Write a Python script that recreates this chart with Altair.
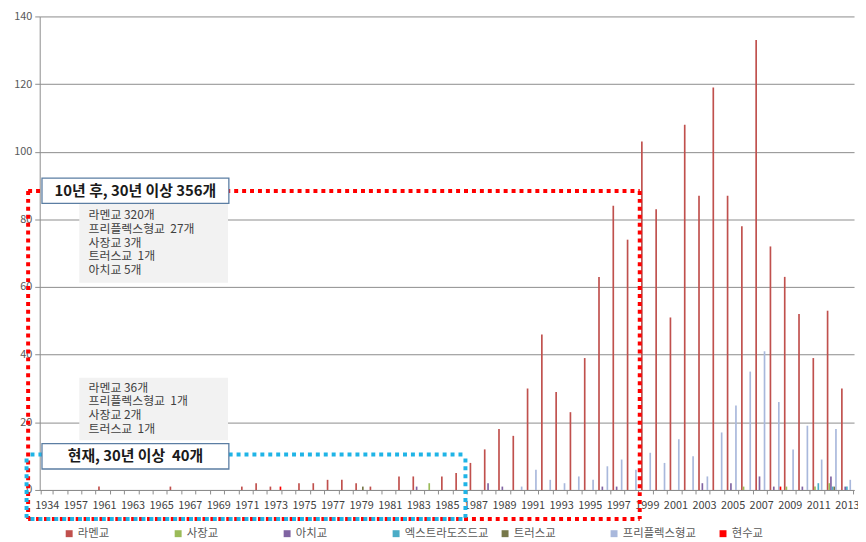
import altair as alt
import pandas as pd

FONT = "Noto Sans CJK KR"
NB = "\u00a0"

# ---------------- data ----------------
years = ["1934", "1954", "1957", "1959", "1961", "1962", "1963", "1964", "1965", "1966",
         "1967", "1968", "1969", "1970", "1971", "1972", "1973", "1974", "1975", "1976",
         "1977", "1978", "1979", "1980", "1981", "1982", "1983", "1984", "1985", "1986",
         "1987", "1988", "1989", "1990", "1991", "1992", "1993", "1994", "1995", "1996",
         "1997", "1998", "1999", "2000", "2001", "2002", "2003", "2004", "2005", "2006",
         "2007", "2008", "2009", "2010", "2011", "2012", "2013"]
labeled_years = years[0::2]

series = ["라멘교", "사장교", "아치교", "엑스트라도즈드교", "트러스교", "프리플렉스형교", "현수교"]
colors = ["#c0504d", "#9bbb59", "#8064a2", "#4bacc6", "#77784a", "#a9b8dc", "#ff0000"]

rahmen = {"1961": 1, "1966": 1, "1971": 1, "1972": 2, "1973": 1, "1975": 2, "1976": 2,
          "1977": 3, "1978": 3, "1979": 2, "1980": 1, "1982": 4, "1983": 4, "1985": 4,
          "1986": 5, "1987": 8, "1988": 12, "1989": 18, "1990": 16, "1991": 30, "1992": 46,
          "1993": 29, "1994": 23, "1995": 39, "1996": 63, "1997": 84, "1998": 74,
          "1999": 103, "2000": 83, "2001": 51, "2002": 108, "2003": 87, "2004": 119,
          "2005": 87, "2006": 78, "2007": 133, "2008": 72, "2009": 63, "2010": 52,
          "2011": 39, "2012": 53, "2013": 30}
cable_stayed = {"1984": 2, "2006": 1, "2009": 1, "2011": 1, "2012": 2}
arch = {"1983": 1, "1988": 2, "1989": 1, "1996": 1, "1997": 1, "2003": 2, "2005": 2,
        "2007": 4, "2008": 1, "2010": 1, "2012": 4, "2013": 1}
extradosed = {"2011": 2, "2012": 1, "2013": 1}
truss = {"1979": 1, "2012": 1}
preflex = {"1990": 1, "1991": 6, "1992": 3, "1993": 2, "1994": 4, "1995": 3, "1996": 7,
           "1997": 9, "1998": 6, "1999": 11, "2000": 8, "2001": 15, "2002": 10, "2003": 4,
           "2004": 17, "2005": 25, "2006": 35, "2007": 41, "2008": 26, "2009": 12,
           "2010": 19, "2011": 9, "2012": 18, "2013": 3}
suspension = {"1973": 1, "2008": 1}

series_values = [rahmen, cable_stayed, arch, extradosed, truss, preflex, suspension]

after_title = "10년 후, 30년 이상 356개"
after_lines = ["라멘교 320개", "프리플렉스형교 " + NB + "27개", "사장교 3개",
               "트러스교 " + NB + "1개", "아치교 5개"]
now_title = "현재, 30년 이상 " + NB + "40개"
now_lines = ["라멘교 36개", "프리플렉스형교 " + NB + "1개", "사장교 2개", "트러스교 " + NB + "1개"]

rows = []
for name, vals in zip(series, series_values):
    for y in years:
        rows.append({"year": y, "series": name, "value": vals.get(y, 0)})
df = pd.DataFrame(rows)

# ---------------- scales ----------------
W, H = 822, 478
N = len(years)
Y_DOMAIN = [0, 140]


def XA(field):
    return alt.X(field, type="quantitative", axis=None,
                 scale=alt.Scale(domain=[0, N], nice=False, zero=False))


def YA(field):
    return alt.Y(field, type="quantitative",
                 scale=alt.Scale(domain=Y_DOMAIN, nice=False, zero=False))


label_list = "[" + ",".join("'" + y + "'" for y in labeled_years) + "]"

bars = alt.Chart(df).mark_bar().encode(
    x=alt.X("year:N", sort=years,
            scale=alt.Scale(domain=years, paddingInner=0.18, paddingOuter=0.09),
            axis=alt.Axis(title=None, labelAngle=0, labelOverlap=False,
                          labelExpr=f"indexof({label_list}, datum.value) >= 0 ? datum.value : ''",
                          tickBand="extent", tickSize=4, tickColor="#8c8c8c",
                          domainColor="#8c8c8c", labelFont=FONT, labelFontSize=11,
                          labelColor="#3f3f3f", labelPadding=6)),
    xOffset=alt.XOffset("series:N", sort=series,
                        scale=alt.Scale(domain=series, paddingInner=0, paddingOuter=0)),
    y=alt.Y("value:Q", scale=alt.Scale(domain=Y_DOMAIN, nice=False),
            axis=alt.Axis(title=None, values=[0, 20, 40, 60, 80, 100, 120, 140],
                          grid=True, gridColor="#8c8c8c", tickColor="#8c8c8c",
                          tickSize=5, domainColor="#8c8c8c", labelFont=FONT,
                          labelFontSize=11, labelColor="#595959", labelPadding=3)),
    color=alt.Color("series:N", sort=series,
                    scale=alt.Scale(domain=series, range=colors),
                    legend=alt.Legend(title=None, orient="none", legendX=24, legendY=516,
                                      direction="horizontal", columns=7, gridAlign="all",
                                      symbolType="square", symbolSize=49,
                                      symbolStrokeWidth=0, labelFont=FONT,
                                      labelFontSize=11.5, labelColor="#595959",
                                      columnPadding=10, labelOffset=3)),
)

# ---------------- annotations (index units on x, data units on y) ----------------
red = dict(left=-0.81, right=42.0, top=88.4, bottom=-8.6)
blue = dict(left=-0.92, right=29.8, top=10.5, bottom=-8.6)


def box_edges(b):
    return pd.DataFrame([
        {"x": b["left"], "x2": b["right"], "y": b["top"], "y2": b["top"]},
        {"x": b["left"], "x2": b["right"], "y": b["bottom"], "y2": b["bottom"]},
        {"x": b["left"], "x2": b["left"], "y": b["top"], "y2": b["bottom"]},
        {"x": b["right"], "x2": b["right"], "y": b["top"], "y2": b["bottom"]},
    ])


red_rules = alt.Chart(box_edges(red)).mark_rule(
    color="#ff0000", strokeWidth=4, strokeDash=[4, 4], strokeCap="butt"
).encode(x=XA("x"), x2="x2", y=YA("y"), y2="y2")

blue_rules = alt.Chart(box_edges(blue)).mark_rule(
    color="#1fb4e6", strokeWidth=4, strokeDash=[4, 4], strokeDashOffset=4, strokeCap="butt"
).encode(x=XA("x"), x2="x2", y=YA("y"), y2="y2")

gray_boxes = alt.Chart(pd.DataFrame([
    {"x": 2.77, "x2": 13.18, "y": 84.7, "y2": 61.3},
    {"x": 2.77, "x2": 13.18, "y": 33.2, "y2": 14.7},
])).mark_rect(fill="#f2f2f2").encode(x=XA("x"), x2="x2", y=YA("y"), y2="y2")

title_boxes = alt.Chart(pd.DataFrame([
    {"x": 0.16, "x2": 13.24, "y": 92.2, "y2": 84.7},
    {"x": 0.16, "x2": 13.24, "y": 13.7, "y2": 6.2},
])).mark_rect(fill="white", stroke="#5b7ea3", strokeWidth=1.3).encode(
    x=XA("x"), x2="x2", y=YA("y"), y2="y2")

title_texts = alt.Chart(pd.DataFrame([
    {"x": 6.70, "y": 88.3, "t": after_title},
    {"x": 6.70, "y": 10.0, "t": now_title},
])).mark_text(font=FONT, fontSize=15, fontWeight="bold", color="#1a1a1a",
              align="center", baseline="middle").encode(x=XA("x"), y=YA("y"), text="t:N")

line_rows = []
for i, t in enumerate(after_lines):
    line_rows.append({"x": 3.42, "y": 81.3 - 4.08 * i, "t": t})
for i, t in enumerate(now_lines):
    line_rows.append({"x": 3.42, "y": 30.2 - 4.03 * i, "t": t})

line_texts = alt.Chart(pd.DataFrame(line_rows)).mark_text(
    font=FONT, fontSize=12, color="#404040", align="left", baseline="middle"
).encode(x=XA("x"), y=YA("y"), text="t:N")

chart = alt.layer(
    bars, red_rules, blue_rules, gray_boxes, title_boxes, title_texts, line_texts
).resolve_scale(x="independent").properties(
    width=W, height=H,
    autosize=alt.AutoSizeParams(type="none"),
    padding={"left": 32, "top": 6, "right": 4, "bottom": 49},
    background="white",
).configure_view(stroke=None)

chart.save("out.html", embed_options={"renderer": "svg", "actions": False})
